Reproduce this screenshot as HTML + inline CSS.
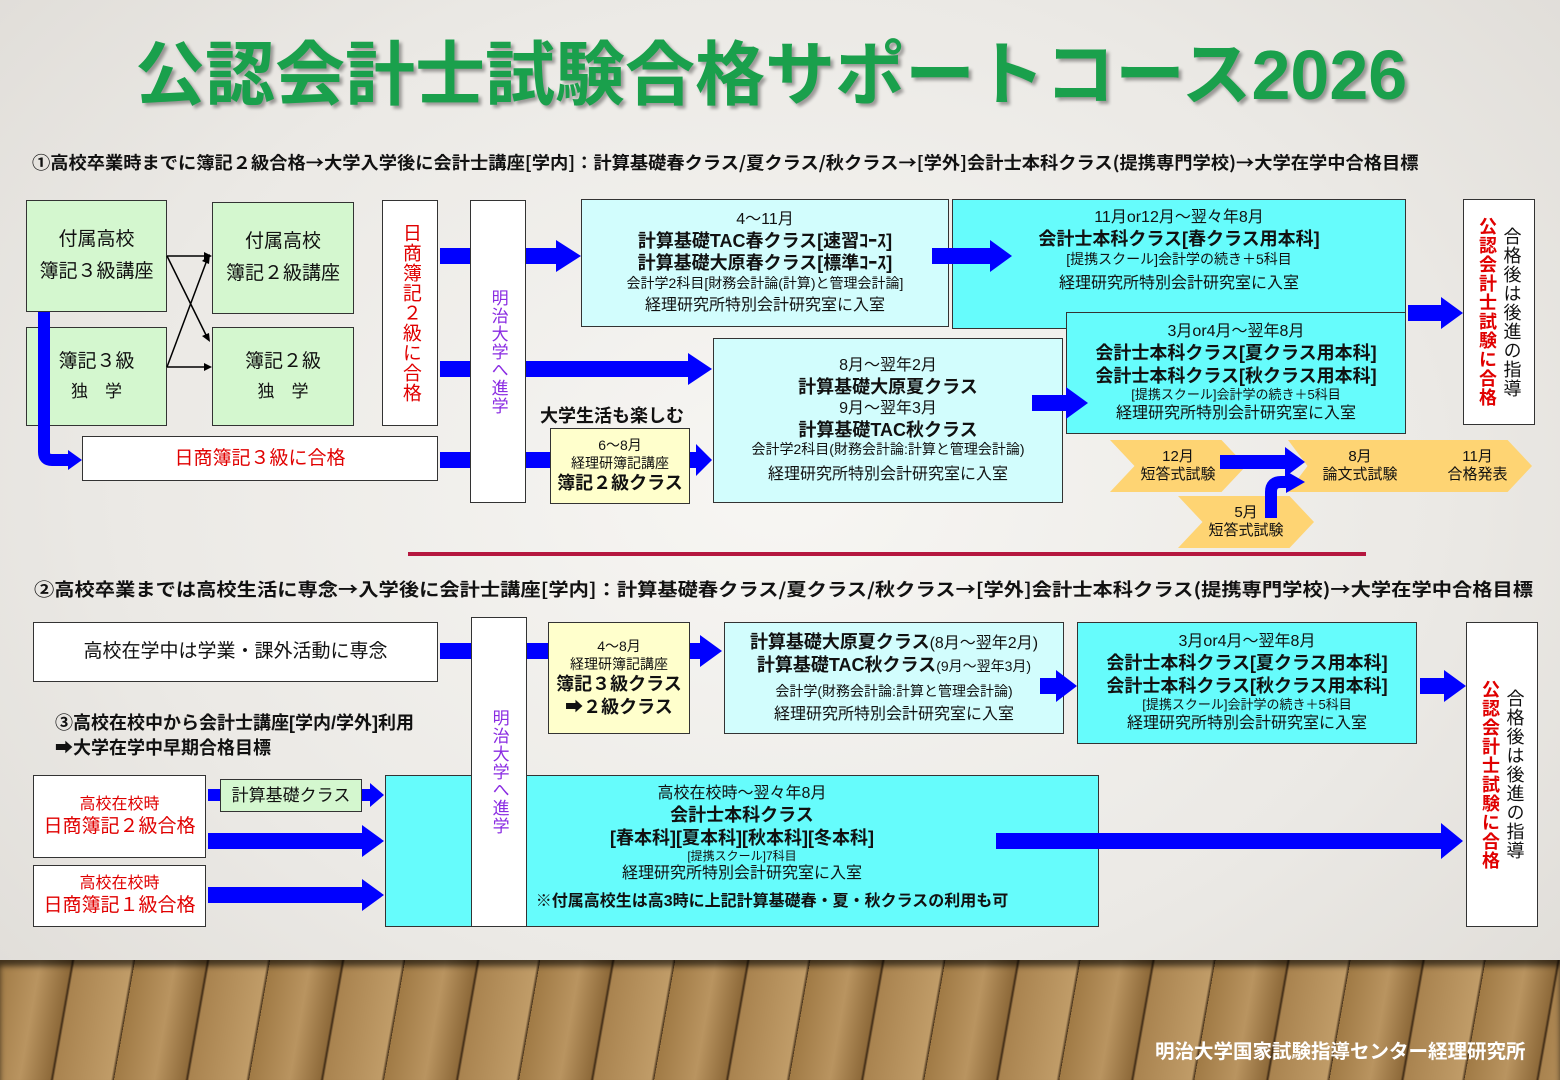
<!DOCTYPE html>
<html><head><meta charset="utf-8"><style>
*{margin:0;padding:0;box-sizing:border-box}
body{width:1560px;height:1080px;position:relative;overflow:hidden;font-family:"Liberation Sans","Noto Sans CJK JP",sans-serif;background:radial-gradient(ellipse at 50% 45%,#f7f6f3 0%,#ebe9e5 60%,#dedbd6 100%);color:#111}
.b{position:absolute;border:1px solid #333;text-align:center;display:flex;flex-direction:column;justify-content:center;align-items:center;line-height:1.25}
.g{background:#d4f7cf}.w{background:#fff}.lc{background:#d2fdfd}.c{background:#66fcfc}.y{background:#ffffcc}
.t{position:absolute;white-space:nowrap}
.red{color:#e00000}.pur{color:#8a2be2}
.v{writing-mode:vertical-rl;font-size:19px;letter-spacing:1px}
b{font-weight:bold}
.s12{font-size:14px}.s15{font-size:16px}.s18{font-size:18px}
.cj{font-family:"Noto Sans CJK JP",sans-serif;transform-origin:0 0}
.chev{position:absolute;background:#fed473;text-align:center;font-size:15px;line-height:1.2;display:flex;flex-direction:column;justify-content:center}
</style></head><body>
<div class="t" style="left:135px;top:19px;font-size:70px;font-weight:bold;color:#1aa04c;text-shadow:3px 3px 3px rgba(0,0,0,.35)">公認会計士試験合格サポートコース2026</div>
<div class="t cj" style="left:32px;top:150px;font-size:17.5px;font-weight:bold;transform:scaleX(1.043)">①高校卒業時までに簿記２級合格→大学入学後に会計士講座[学内]：計算基礎春クラス/夏クラス/秋クラス→[学外]会計士本科クラス(提携専門学校)→大学在学中合格目標</div>

<div class="b g" style="left:26px;top:200px;width:141px;height:112px;font-size:19px;line-height:1.7">付属高校<br>簿記３級講座</div>
<div class="b g" style="left:212px;top:202px;width:142px;height:112px;font-size:19px;line-height:1.7">付属高校<br>簿記２級講座</div>
<div class="b g" style="left:26px;top:327px;width:141px;height:99px;font-size:19px;line-height:1.7">簿記３級<br><span style="font-size:17px">独　学</span></div>
<div class="b g" style="left:212px;top:327px;width:142px;height:99px;font-size:19px;line-height:1.7">簿記２級<br><span style="font-size:17px">独　学</span></div>
<div class="b w" style="left:382px;top:200px;width:56px;height:226px"><span class="v red">日商簿記２級に合格</span></div>
<div class="b w" style="left:470px;top:200px;width:56px;height:303px"><span class="v pur" style="font-size:17px">明治大学へ進学</span></div>
<div class="b w red" style="left:82px;top:436px;width:356px;height:45px;font-size:19px">日商簿記３級に合格</div>

<div class="b lc" style="left:581px;top:199px;width:368px;height:128px"><span class="s15">4～11月</span><b class="s18">計算基礎TAC春クラス[速習ｺｰｽ]</b><b class="s18">計算基礎大原春クラス[標準ｺｰｽ]</b><span style="font-size:14px">会計学2科目[財務会計論(計算)と管理会計論]</span><span class="s15" style="margin-top:4px">経理研究所特別会計研究室に入室</span></div>
<div class="b c" style="left:952px;top:199px;width:454px;height:130px;justify-content:flex-start;padding-top:8px"><span class="s15">11月or12月～翌々年8月</span><b class="s18">会計士本科クラス[春クラス用本科]</b><span style="font-size:14px">[提携スクール]会計学の続き＋5科目</span><span class="s15" style="margin-top:6px">経理研究所特別会計研究室に入室</span></div>
<div class="b c" style="left:1066px;top:312px;width:340px;height:122px"><span class="s15">3月or4月～翌年8月</span><b class="s18">会計士本科クラス[夏クラス用本科]</b><b class="s18">会計士本科クラス[秋クラス用本科]</b><span style="font-size:13px">[提携スクール]会計学の続き＋5科目</span><span class="s15">経理研究所特別会計研究室に入室</span></div>
<div class="b lc" style="left:713px;top:338px;width:350px;height:165px"><span class="s15">8月～翌年2月</span><b class="s18">計算基礎大原夏クラス</b><span class="s15">9月～翌年3月</span><b class="s18">計算基礎TAC秋クラス</b><span style="font-size:14px">会計学2科目(財務会計論:計算と管理会計論)</span><span class="s15" style="margin-top:6px">経理研究所特別会計研究室に入室</span></div>
<div class="t" style="left:540px;top:402px;font-size:18px;font-weight:bold">大学生活も楽しむ</div>
<div class="b y" style="left:550px;top:428px;width:140px;height:76px"><span style="font-size:14px">6～8月</span><span style="font-size:14px">経理研簿記講座</span><b class="s18">簿記２級クラス</b></div>
<div class="b w" style="left:1463px;top:199px;width:72px;height:226px;flex-direction:row;gap:2px"><span class="v red" style="font-size:18px;font-weight:bold">公認会計士試験に合格</span><span class="v" style="font-size:18px">合格後は後進の指導</span></div>

<div class="chev" style="left:1110px;top:440px;width:136px;height:52px;clip-path:polygon(0 0,82% 0,100% 50%,82% 100%,0 100%,18% 50%)">12月<br>短答式試験</div>
<div class="chev" style="left:1288px;top:440px;width:244px;height:52px;clip-path:polygon(0 0,90% 0,100% 50%,90% 100%,0 100%,8% 50%);flex-direction:row;gap:50px;align-items:center;padding-left:10px"><span>8月<br>論文式試験</span><span>11月<br>合格発表</span></div>
<div class="chev" style="left:1178px;top:496px;width:136px;height:52px;clip-path:polygon(0 0,82% 0,100% 50%,82% 100%,0 100%,18% 50%)">5月<br>短答式試験</div>
<div style="position:absolute;left:408px;top:552px;width:958px;height:4px;background:#b5173f"></div>

<div class="t cj" style="left:34px;top:576px;font-size:18px;font-weight:bold;transform:scaleX(1.126)">②高校卒業までは高校生活に専念→入学後に会計士講座[学内]：計算基礎春クラス/夏クラス/秋クラス→[学外]会計士本科クラス(提携専門学校)→大学在学中合格目標</div>
<div class="b w" style="left:33px;top:622px;width:405px;height:60px;font-size:19px">高校在学中は学業・課外活動に専念</div>
<div class="b c" style="left:385px;top:775px;width:714px;height:152px;justify-content:flex-start;padding-top:8px"><span class="s15">高校在校時～翌々年8月</span><b class="s18">会計士本科クラス</b><b class="s18">[春本科][夏本科][秋本科][冬本科]</b><span style="font-size:12px">[提携スクール]7科目</span><span class="s15">経理研究所特別会計研究室に入室</span><b style="font-size:16px;margin-top:8px;margin-left:60px">※付属高校生は高3時に上記計算基礎春・夏・秋クラスの利用も可</b></div>
<div class="b w" style="left:471px;top:617px;width:56px;height:310px"><span class="v pur" style="font-size:17px">明治大学へ進学</span></div>
<div class="b y" style="left:548px;top:622px;width:142px;height:112px"><span style="font-size:14px">4～8月</span><span style="font-size:14px">経理研簿記講座</span><b class="s18">簿記３級クラス</b><b class="s18">➡２級クラス</b></div>
<div class="b lc" style="left:724px;top:622px;width:340px;height:112px"><span><b class="s18">計算基礎大原夏クラス</b><span class="s15">(8月～翌年2月)</span></span><span><b class="s18">計算基礎TAC秋クラス</b><span style="font-size:14px">(9月～翌年3月)</span></span><span style="font-size:14px;margin-top:6px">会計学(財務会計論:計算と管理会計論)</span><span class="s15" style="margin-top:4px">経理研究所特別会計研究室に入室</span></div>
<div class="b c" style="left:1077px;top:622px;width:340px;height:122px"><span class="s15">3月or4月～翌年8月</span><b class="s18">会計士本科クラス[夏クラス用本科]</b><b class="s18">会計士本科クラス[秋クラス用本科]</b><span style="font-size:13px">[提携スクール]会計学の続き＋5科目</span><span class="s15">経理研究所特別会計研究室に入室</span></div>
<div class="b w" style="left:1466px;top:622px;width:72px;height:305px;flex-direction:row;gap:2px"><span class="v red" style="font-size:18px;font-weight:bold">公認会計士試験に合格</span><span class="v" style="font-size:18px">合格後は後進の指導</span></div>
<div class="t" style="left:55px;top:709px;font-size:18px;font-weight:bold">③高校在校中から会計士講座[学内/学外]利用</div>
<div class="t" style="left:55px;top:734px;font-size:18px;font-weight:bold">➡大学在学中早期合格目標</div>
<div class="b w red" style="left:33px;top:775px;width:173px;height:83px;font-size:19px"><span style="font-size:16px">高校在校時</span>日商簿記２級合格</div>
<div class="b w red" style="left:33px;top:865px;width:173px;height:62px;font-size:19px"><span style="font-size:16px">高校在校時</span>日商簿記１級合格</div>
<div class="b g" style="left:220px;top:779px;width:142px;height:33px;font-size:17px">計算基礎クラス</div>

<div style="position:absolute;left:0;top:960px;width:1560px;height:120px;background:repeating-linear-gradient(100deg,#a07a45 0px,#b99460 40px,#8e6a3a 70px,#3e2a15 72px,#a9834f 74px,#c09c68 130px,#3e2a15 133px);box-shadow:inset 0 6px 6px rgba(0,0,0,.6)"></div>
<div class="t" style="left:1155px;top:1035px;font-size:19.5px;font-weight:bold;color:#fff">明治大学国家試験指導センター経理研究所</div>

<svg width="1560" height="1080" style="position:absolute;left:0;top:0" fill="#0000ff">
<g stroke="#000" stroke-width="1.5" fill="none">
<line x1="167" y1="256" x2="206" y2="256"/><line x1="167" y1="256" x2="207" y2="337"/>
<line x1="167" y1="367" x2="207" y2="260"/><line x1="167" y1="367" x2="206" y2="367"/>
</g>
<g fill="#000"><polygon points="212,256 204,252 204,260"/><polygon points="212,367 204,363 204,371"/><polygon points="210,342 202,336 209,333"/><polygon points="210,254 209,264 202,261"/></g>
<path d="M44 312 V452 Q44 460 52 460 H70" stroke="#0000ff" stroke-width="12" fill="none"/>
<polygon points="68,450 82,460 68,470"/>
<rect x="440" y="248" width="30" height="16"/><polygon points="526,248 556,248 556,240 581,256 556,272 556,264 526,264"/>
<rect x="440" y="361" width="30" height="16"/><polygon points="526,361 688,361 688,353 712,369 688,385 688,377 526,377"/>
<rect x="440" y="452" width="30" height="16"/><rect x="526" y="452" width="24" height="16"/><polygon points="690,452 696,452 696,444 712,460 696,476 696,468 690,468"/>
<polygon points="932,248 990,248 990,240 1012,256 990,272 990,264 932,264"/>
<polygon points="1032,395 1066,395 1066,387 1088,403 1066,419 1066,411 1032,411"/>
<polygon points="1408,305 1441,305 1441,297 1463,313 1441,329 1441,321 1408,321"/>
<polygon points="1220,455 1285,455 1285,447 1305,462 1285,477 1285,469 1220,469"/>
<path d="M1271 518 V492 Q1271 482 1281 482 H1288" stroke="#0000ff" stroke-width="12" fill="none"/>
<polygon points="1286,471 1305,482 1286,493"/>
<rect x="440" y="643" width="31" height="16"/><rect x="527" y="643" width="21" height="16"/><polygon points="690,643 700,643 700,635 722,651 700,667 700,659 690,659"/>
<polygon points="1040,678 1056,678 1056,670 1077,686 1056,702 1056,694 1040,694"/>
<polygon points="1420,678 1444,678 1444,670 1466,686 1444,702 1444,694 1420,694"/>
<rect x="208" y="789" width="12" height="12"/><polygon points="362,789 370,789 370,783 384,795 370,807 370,801 362,801"/>
<polygon points="208,833 362,833 362,825 384,841 362,857 362,849 208,849"/>
<polygon points="208,887 362,887 362,879 384,895 362,911 362,903 208,903"/>
<polygon points="996,833 1441,833 1441,823 1463,841 1441,859 1441,849 996,849"/>
</svg>
</body></html>
